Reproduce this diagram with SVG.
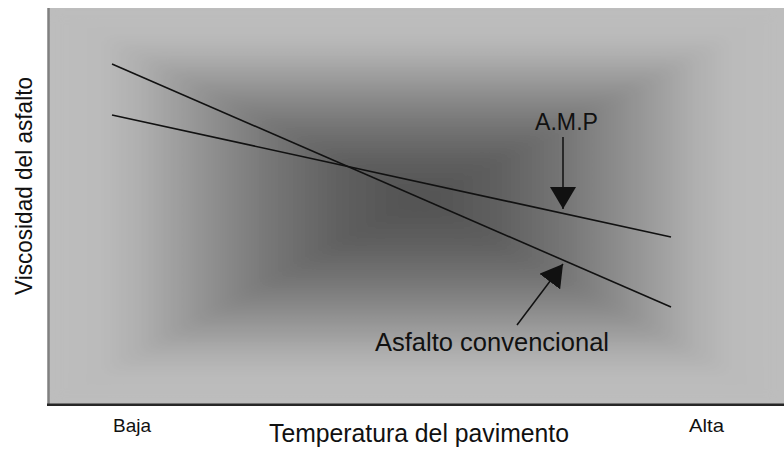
<svg xmlns="http://www.w3.org/2000/svg" width="784" height="456" viewBox="0 0 784 456">
  <style>
    .lbl { font-family: "Liberation Sans", Arial, sans-serif; fill: #111; }
    .curve { stroke: #111; stroke-width: 1.6; fill: none; }
    .arrow { stroke: #111; stroke-width: 1.5; fill: none; marker-end: url(#head); }
  </style>
  <defs>
    <linearGradient id="gL" gradientUnits="userSpaceOnUse" x1="48" y1="0" x2="420" y2="0">
      <stop offset="0" stop-color="#bdbdbd"/>
      <stop offset="0.14" stop-color="#bbbbbb"/>
      <stop offset="0.24" stop-color="#b0b0b0"/>
      <stop offset="0.42" stop-color="#929292"/>
      <stop offset="0.6" stop-color="#767676"/>
      <stop offset="0.8" stop-color="#5e5e5e"/>
      <stop offset="1" stop-color="#525252"/>
    </linearGradient>
    <linearGradient id="gR" href="#gL" gradientUnits="userSpaceOnUse" x1="784" y1="0" x2="420" y2="0"/>
    <linearGradient id="gT" href="#gL" gradientUnits="userSpaceOnUse" x1="0" y1="8" x2="0" y2="200"/>
    <linearGradient id="gB" href="#gL" gradientUnits="userSpaceOnUse" x1="0" y1="405" x2="0" y2="200"/>
    <clipPath id="plotClip"><rect x="48" y="8" width="736" height="397"/></clipPath>
    <filter id="soft" x="-5%" y="-5%" width="110%" height="110%">
      <feGaussianBlur stdDeviation="7"/>
    </filter>
    <marker id="head" viewBox="0 0 22 26" refX="22" refY="13" markerWidth="22" markerHeight="26" orient="auto" markerUnits="userSpaceOnUse">
      <path d="M0,0 L22,13 L0,26 z" fill="#111"/>
    </marker>
  </defs>

  <g id="plot-area" clip-path="url(#plotClip)">
    <rect x="48" y="8" width="736" height="397" fill="#bdbdbd"/>
    <g filter="url(#soft)">
      <polygon points="48,8 420,200 48,405" fill="url(#gL)" stroke="url(#gL)" stroke-width="1"/>
      <polygon points="784,8 420,200 784,405" fill="url(#gR)" stroke="url(#gR)" stroke-width="1"/>
      <polygon points="48,8 784,8 420,200" fill="url(#gT)" stroke="url(#gT)" stroke-width="1"/>
      <polygon points="48,405 784,405 420,200" fill="url(#gB)" stroke="url(#gB)" stroke-width="1"/>
    </g>
  </g>

  <g id="axes">
    <line x1="48.5" y1="8" x2="48.5" y2="405" stroke="#808080" stroke-width="2.5"/>
    <line x1="47" y1="404.8" x2="784" y2="404.8" stroke="#262626" stroke-width="2.6"/>
  </g>

  <g id="series">
    <line id="conventional" class="curve" x1="112" y1="64" x2="671" y2="307"/>
    <line id="amp" class="curve" x1="112" y1="115" x2="671" y2="237"/>
  </g>

  <g id="connectors">
    <line class="arrow" x1="563" y1="137" x2="563" y2="209"/>
    <line class="arrow" x1="517" y1="325" x2="563" y2="264"/>
  </g>

  <g id="labels">
    <text id="y-title" class="lbl" font-size="24" text-anchor="middle" textLength="218" lengthAdjust="spacingAndGlyphs" transform="translate(32.3,186) rotate(-90)">Viscosidad del asfalto</text>
    <text id="x-title" class="lbl" font-size="25" x="269" y="442" textLength="300" lengthAdjust="spacingAndGlyphs">Temperatura del pavimento</text>
    <text id="baja" class="lbl" font-size="19" x="113" y="432" textLength="38" lengthAdjust="spacingAndGlyphs">Baja</text>
    <text id="alta" class="lbl" font-size="19" x="689" y="432" textLength="35" lengthAdjust="spacingAndGlyphs">Alta</text>
    <text id="amp-label" class="lbl" font-size="24" x="535" y="130" textLength="63" lengthAdjust="spacingAndGlyphs">A.M.P</text>
    <text id="conv-label" class="lbl" font-size="25" x="375" y="351" textLength="234" lengthAdjust="spacingAndGlyphs">Asfalto convencional</text>
  </g>
</svg>
